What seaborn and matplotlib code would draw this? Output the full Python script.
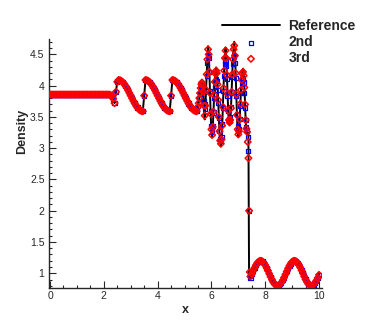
import matplotlib
matplotlib.use('Agg')
import matplotlib.pyplot as plt
from matplotlib.ticker import MultipleLocator, FormatStrFormatter
import seaborn as sns

# --- grid + density values ---
# left part (flat state + sawtooth waves), same for both schemes
x_left = [0.00, 0.05, 0.10, 0.15, 0.20, 0.25, 0.30, 0.35, 0.40, 0.45,
          0.50, 0.55, 0.60, 0.65, 0.70, 0.75, 0.80, 0.85, 0.90, 0.95,
          1.00, 1.05, 1.10, 1.15, 1.20, 1.25, 1.30, 1.35, 1.40, 1.45,
          1.50, 1.55, 1.60, 1.65, 1.70, 1.75, 1.80, 1.85, 1.90, 1.95,
          2.00, 2.05, 2.10, 2.15, 2.20, 2.25, 2.30, 2.35, 2.40, 2.45,
          2.50, 2.55, 2.60, 2.65, 2.70, 2.75, 2.80, 2.85, 2.90, 2.95,
          3.00, 3.05, 3.10, 3.15, 3.20, 3.25, 3.30, 3.35, 3.40, 3.45,
          3.50, 3.55, 3.60, 3.65, 3.70, 3.75, 3.80, 3.85, 3.90, 3.95,
          4.00, 4.05, 4.10, 4.15, 4.20, 4.25, 4.30, 4.35, 4.40, 4.45,
          4.50, 4.55, 4.60, 4.65, 4.70, 4.75, 4.80, 4.85, 4.90, 4.95,
          5.00, 5.05, 5.10, 5.15, 5.20, 5.25, 5.30, 5.35, 5.40, 5.45]
rho_left = [3.857, 3.857, 3.857, 3.857, 3.857, 3.857, 3.857, 3.857, 3.857, 3.857,
            3.857, 3.857, 3.857, 3.857, 3.857, 3.857, 3.857, 3.857, 3.857, 3.857,
            3.857, 3.857, 3.857, 3.857, 3.857, 3.857, 3.857, 3.857, 3.857, 3.857,
            3.857, 3.857, 3.857, 3.857, 3.857, 3.857, 3.857, 3.857, 3.857, 3.857,
            3.857, 3.857, 3.857, 3.857, 3.857, 3.850, 3.830, 3.790, 3.720, 3.900,
            4.060, 4.090, 4.086, 4.075, 4.057, 4.032, 4.001, 3.965, 3.926, 3.883,
            3.840, 3.797, 3.754, 3.715, 3.679, 3.649, 3.623, 3.605, 3.594, 3.590,
            3.840, 4.090, 4.086, 4.075, 4.057, 4.032, 4.001, 3.965, 3.926, 3.883,
            3.840, 3.797, 3.754, 3.715, 3.679, 3.649, 3.623, 3.605, 3.594, 3.590,
            3.840, 4.090, 4.086, 4.075, 4.057, 4.032, 4.001, 3.965, 3.926, 3.883,
            3.840, 3.797, 3.754, 3.715, 3.679, 3.649, 3.623, 3.605, 3.594, 3.590]

# shock / high frequency region
x_mid = [5.500, 5.525, 5.550, 5.575, 5.600, 5.625, 5.650, 5.675, 5.700, 5.725,
         5.750, 5.775, 5.800, 5.825, 5.850, 5.875, 5.900, 5.925, 5.950, 5.975,
         6.000, 6.025, 6.050, 6.075, 6.100, 6.125, 6.150, 6.175, 6.200, 6.225,
         6.250, 6.275, 6.300, 6.325, 6.350, 6.375, 6.400, 6.425, 6.450, 6.475,
         6.500, 6.525, 6.550, 6.575, 6.600, 6.625, 6.650, 6.675, 6.700, 6.725,
         6.750, 6.775, 6.800, 6.825, 6.850, 6.875, 6.900, 6.925, 6.950, 6.975,
         7.000, 7.025, 7.050, 7.075, 7.100, 7.125, 7.150, 7.175, 7.200, 7.225,
         7.250, 7.275, 7.300, 7.325, 7.350, 7.375, 7.400, 7.425, 7.450]
ref_mid = [3.66, 3.72, 3.80, 3.89, 3.97, 4.04, 4.07, 4.02, 3.88, 3.60,
           3.46, 3.66, 3.92, 4.20, 4.45, 4.63, 4.55, 4.22, 3.85, 3.50,
           3.26, 3.18, 3.32, 3.58, 3.86, 4.08, 4.22, 4.29, 4.25, 4.05,
           3.78, 3.50, 3.24, 3.08, 3.03, 3.10, 3.34, 3.66, 3.98, 4.28,
           4.50, 4.61, 4.48, 4.18, 3.86, 3.58, 3.42, 3.38, 3.42, 3.62,
           3.90, 4.20, 4.45, 4.63, 4.70, 4.55, 4.22, 3.86, 3.50, 3.26,
           3.18, 3.24, 3.45, 3.72, 3.95, 4.12, 4.23, 4.27, 4.22, 4.00,
           3.70, 3.42, 3.28, 3.24, 3.24, 3.25, 0.893, 0.915, 0.938]
rho2_mid = [3.67, 3.73, 3.80, 3.87, 3.94, 3.99, 4.02, 4.00, 3.92, 3.76,
            3.62, 3.70, 3.92, 4.15, 4.36, 4.48, 4.44, 4.22, 3.92, 3.60,
            3.36, 3.26, 3.36, 3.57, 3.80, 3.98, 4.08, 4.11, 4.07, 3.93,
            3.72, 3.48, 3.28, 3.15, 3.11, 3.18, 3.38, 3.64, 3.91, 4.16,
            4.34, 4.40, 4.32, 4.10, 3.84, 3.60, 3.47, 3.44, 3.49, 3.66,
            3.89, 4.14, 4.35, 4.47, 4.48, 4.36, 4.12, 3.83, 3.55, 3.35,
            3.27, 3.31, 3.47, 3.68, 3.88, 4.02, 4.10, 4.11, 4.05, 3.88,
            3.65, 3.45, 3.33, 3.27, 3.18, 2.96, 2.00, 0.95, 0.93]
rho3_mid = [3.66, 3.72, 3.80, 3.88, 3.96, 4.02, 4.05, 4.01, 3.90, 3.68,
            3.52, 3.68, 3.93, 4.18, 4.42, 4.58, 4.50, 4.22, 3.88, 3.55,
            3.30, 3.21, 3.34, 3.58, 3.85, 4.06, 4.19, 4.24, 4.20, 4.02,
            3.77, 3.50, 3.27, 3.12, 3.07, 3.14, 3.36, 3.66, 3.96, 4.24,
            4.44, 4.56, 4.44, 4.17, 3.87, 3.60, 3.45, 3.41, 3.45, 3.64,
            3.90, 4.18, 4.42, 4.58, 4.64, 4.48, 4.20, 3.86, 3.53, 3.30,
            3.22, 3.27, 3.46, 3.71, 3.93, 4.09, 4.19, 4.22, 4.16, 3.97,
            3.70, 3.45, 3.31, 3.26, 3.10, 2.84, 2.00, 1.02, 0.95]

# post-shock sine wave, same for all
x_right = [7.50, 7.55, 7.60, 7.65, 7.70, 7.75, 7.80, 7.85, 7.90, 7.95, 8.00,
           8.05, 8.10, 8.15, 8.20, 8.25, 8.30, 8.35, 8.40, 8.45, 8.50,
           8.55, 8.60, 8.65, 8.70, 8.75, 8.80, 8.85, 8.90, 8.95, 9.00,
           9.05, 9.10, 9.15, 9.20, 9.25, 9.30, 9.35, 9.40, 9.45, 9.50,
           9.55, 9.60, 9.65, 9.70, 9.75, 9.80, 9.85, 9.90, 9.95, 10.00]
rho_right = [0.987, 1.037, 1.084, 1.126, 1.161, 1.185, 1.198, 1.199, 1.187, 1.164, 1.130,
             1.088, 1.041, 0.992, 0.942, 0.897, 0.858, 0.827, 0.808, 0.800, 0.805,
             0.822, 0.850, 0.887, 0.932, 0.980, 1.030, 1.078, 1.121, 1.157, 1.183,
             1.197, 1.199, 1.189, 1.167, 1.135, 1.094, 1.048, 0.998, 0.949, 0.902,
             0.862, 0.831, 0.810, 0.800, 0.804, 0.819, 0.846, 0.882, 0.925, 0.974]

x_all = x_left + x_mid + x_right
rho_ref = rho_left + ref_mid + rho_right
rho_2nd = rho_left + rho2_mid + rho_right
rho_3rd = rho_left + rho3_mid + rho_right

sns.set_style('ticks')
plt.rcParams['font.family'] = ['Liberation Sans', 'DejaVu Sans']

fig = plt.figure(figsize=(3.66, 3.25), dpi=100)
ax = fig.add_axes([0.133, 0.114, 0.746, 0.765])

# line under the symbols (scatter collections default to zorder 1)
sns.lineplot(x=x_all, y=rho_ref, color='black', lw=1.4, sort=False, estimator=None,
             label='Reference', zorder=1, ax=ax)
sns.scatterplot(x=x_all, y=rho_2nd, marker='s', s=9, facecolor='none', edgecolor='blue',
                linewidth=0.9, label='2nd', zorder=2, ax=ax)
sns.scatterplot(x=x_all, y=rho_3rd, marker='D', s=11, facecolor='none', edgecolor='red',
                linewidth=1.1, label='3rd', zorder=3, ax=ax)

ax.set_xlim(-0.05, 10.1)
ax.set_ylim(0.765, 4.74)
sns.despine(ax=ax)
for sp in ax.spines.values():
    sp.set_linewidth(1.0)

ax.xaxis.set_major_locator(MultipleLocator(2))
ax.xaxis.set_minor_locator(MultipleLocator(0.5))
ax.yaxis.set_major_locator(MultipleLocator(0.5))
ax.yaxis.set_minor_locator(MultipleLocator(0.1))
ax.yaxis.set_major_formatter(FormatStrFormatter('%g'))
ax.tick_params(which='both', direction='in', width=0.8, labelsize=7.5)
ax.tick_params(which='major', length=5)
ax.tick_params(which='minor', length=2.5)
ax.tick_params(axis='y', pad=3)
ax.tick_params(axis='x', pad=2.5)

ax.set_xlabel('x', fontsize=9, fontweight='bold', labelpad=2)
ax.set_ylabel('Density', fontsize=9, fontweight='bold')
ax.yaxis.set_label_coords(-0.077, 0.63)

ax.legend(loc='upper left', bbox_to_anchor=(0.587, 0.962), bbox_transform=fig.transFigure,
          frameon=False, borderpad=0, handlelength=4.2, handletextpad=0.6,
          labelspacing=0.15, prop={'weight': 'bold', 'size': 10})

fig.savefig('out.png', dpi=100)
